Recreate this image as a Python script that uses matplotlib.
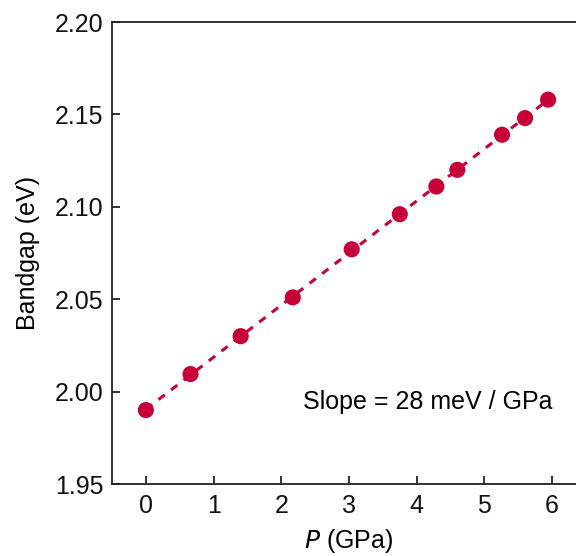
import numpy as np
from matplotlib import pyplot as plt

plt.rcParams['font.family'] = ['Liberation Sans', 'DejaVu Sans']

# Pressure (GPa) and measured bandgap (eV)
pressure = [0.0, 0.66, 1.40, 2.17, 3.04, 3.75, 4.29, 4.60, 5.26, 5.60, 5.94]
bandgap = [1.990, 2.0095, 2.030, 2.051, 2.077, 2.096, 2.111, 2.120, 2.139, 2.148, 2.158]

red = "#C8003A"

fig = plt.figure(figsize=(5.76, 5.56), dpi=100)
# axes runs a little past the right edge, like the cropped original
ax = fig.add_axes([112 / 576, 1 - 484 / 556, 474 / 576, 462 / 556])

# linear fit, dashed
x = np.array(pressure)
y = np.array(bandgap)
fit = np.poly1d(np.polyfit(x, y, 1))
xs = np.array([x.min(), x.max()])
ax.plot(xs, fit(xs), "--", color=red, lw=2.2, dashes=(2.6, 2.6), zorder=2)
ax.scatter(x, y, s=135, color=red, zorder=3, edgecolors="none")

ax.set_xlim(-0.5, 6.5)
ax.set_ylim(1.95, 2.20)
ax.set_xticks(range(7))
ax.set_yticks([1.95, 2.00, 2.05, 2.10, 2.15, 2.20])
ax.set_yticklabels(["1.95", "2.00", "2.05", "2.10", "2.15", "2.20"])

ax.spines["right"].set_visible(False)
for s in ["left", "bottom", "top"]:
    ax.spines[s].set_linewidth(1.3)
    ax.spines[s].set_color("#222222")

fs = 18
ax.tick_params(direction="in", length=6, width=1.2, labelsize=fs, colors="#111111")
ax.tick_params(axis="x", pad=7)
ax.tick_params(axis="y", pad=6)

ax.set_xlabel("$P$ (GPa)", fontsize=fs, labelpad=7)
ax.set_ylabel("Bandgap (eV)", fontsize=fs, labelpad=11)

ax.text(2.32, 1.9944, "Slope = 28 meV / GPa", fontsize=fs, ha="left", va="center")

fig.savefig("out.png", dpi=100)
